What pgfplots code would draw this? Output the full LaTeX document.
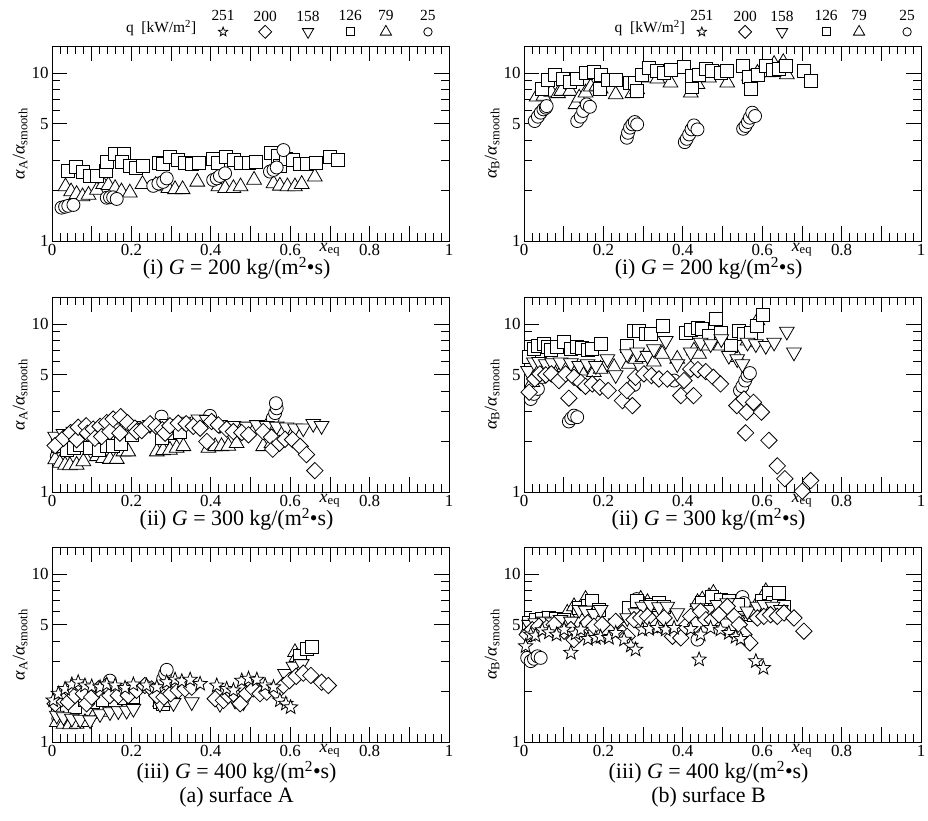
\documentclass[border=0pt]{standalone}
\usepackage{fontspec}
\setmainfont{Liberation Serif}
\usepackage{pgfplots}
\pgfplotsset{compat=1.18}

% open five-pointed star
\pgfdeclareplotmark{ostar}{%
  \pgfpathmoveto{\pgfpointpolar{90}{\pgfplotmarksize}}%
  \pgfpathlineto{\pgfpointpolar{126}{0.42*\pgfplotmarksize}}%
  \pgfpathlineto{\pgfpointpolar{162}{\pgfplotmarksize}}%
  \pgfpathlineto{\pgfpointpolar{198}{0.42*\pgfplotmarksize}}%
  \pgfpathlineto{\pgfpointpolar{234}{\pgfplotmarksize}}%
  \pgfpathlineto{\pgfpointpolar{270}{0.42*\pgfplotmarksize}}%
  \pgfpathlineto{\pgfpointpolar{306}{\pgfplotmarksize}}%
  \pgfpathlineto{\pgfpointpolar{342}{0.42*\pgfplotmarksize}}%
  \pgfpathlineto{\pgfpointpolar{18}{\pgfplotmarksize}}%
  \pgfpathlineto{\pgfpointpolar{54}{0.42*\pgfplotmarksize}}%
  \pgfpathclose
  \pgfusepathqfillstroke}

\pgfplotsset{
  every axis/.append style={
    width=397bp, height=195bp, scale only axis,
    xmin=0, xmax=1, ymode=log, ymin=1, ymax=14.5,
    xtick={0,0.1,0.2,0.3,0.4,0.5,0.6,0.7,0.8,0.9,1},
    xticklabels={0,{},0.2,{},0.4,{},0.6,{},0.8,{},1},
    minor x tick num=4,
    ytick={1,5,10}, yticklabels={1,5,10},
    minor ytick={2,3,4,6,7,8,9},
    tick align=inside, tick pos=both,
    major tick length=15bp, minor tick length=8bp,
    every tick/.style={black, line width=0.8bp},
    axis line style={line width=0.8bp},
    tick label style={font=\fontsize{17}{17}\selectfont},
    ylabel style={font=\fontsize{18}{18}\selectfont, at={(rel axis cs:-0.08,0.5)}, anchor=center},
    clip=false,
  },
  qa/.style={only marks, mark=ostar, mark size=7.5bp,
    mark options={draw=black, fill=white, line width=0.8bp}},
  qb/.style={only marks, mark=square*, mark size=5.8bp,
    mark options={draw=black, fill=white, line width=0.8bp, rotate=45}},
  qc/.style={only marks, mark=triangle*, mark size=8.5bp,
    mark options={draw=black, fill=white, line width=0.8bp, rotate=180}},
  qd/.style={only marks, mark=square*, mark size=6.5bp,
    mark options={draw=black, fill=white, line width=0.8bp}},
  qe/.style={only marks, mark=triangle*, mark size=8.5bp,
    mark options={draw=black, fill=white, line width=0.8bp}},
  qf/.style={only marks, mark=*, mark size=6.5bp,
    mark options={draw=black, fill=white, line width=0.8bp}},
}
\newcommand{\ylA}{\textit{α}\textsubscript{A}/\textit{α}\textsubscript{smooth}}
\newcommand{\ylB}{\textit{α}\textsubscript{B}/\textit{α}\textsubscript{smooth}}
\newcommand{\xeq}{\node[font=\fontsize{18}{18}\selectfont] at (rel axis cs:0.70,-0.045) {\textit{x}\textsubscript{eq}};}
\newcommand{\capfont}{\fontsize{22}{22}\selectfont}
\newcommand{\legfont}{\fontsize{15.5}{15.5}\selectfont}

\begin{document}
\begin{tikzpicture}
\useasboundingbox (0bp,0bp) rectangle (928bp,821bp);

% ---------- (a) surface A, G = 200 ----------
\begin{axis}[at={(52bp,580bp)}, anchor=south west, ylabel={\ylA}]
\addplot[qe] coordinates {
 (0.034,2.11)(0.048,1.97)(0.062,1.90)(0.077,1.84)(0.092,1.88)(0.113,2.01)(0.129,2.18)(0.142,2.15)
 (0.159,2.06)(0.175,1.97)(0.196,1.94)(0.228,2.18)(0.261,2.15)(0.278,2.11)(0.293,2.06)(0.310,2.03)
 (0.329,2.03)(0.366,2.25)(0.419,2.11)(0.436,2.06)(0.457,2.06)(0.475,2.11)(0.509,2.31)(0.558,2.20)
 (0.574,2.13)(0.593,2.11)(0.612,2.11)(0.629,2.18)(0.662,2.41)};
\addplot[qd] coordinates {
 (0.041,2.61)(0.060,2.77)(0.079,2.59)(0.096,2.44)(0.113,2.44)(0.135,2.61)(0.139,2.97)(0.159,3.30)
 (0.180,3.30)(0.175,2.97)(0.195,2.80)(0.212,2.71)(0.230,2.80)(0.270,2.90)(0.280,2.87)(0.297,3.15)
 (0.317,3.06)(0.335,2.93)(0.352,2.87)(0.371,2.93)(0.406,3.10)(0.419,2.90)(0.438,3.18)(0.457,3.06)
 (0.475,2.90)(0.495,2.90)(0.514,2.97)(0.552,3.36)(0.568,3.21)(0.573,2.80)(0.589,3.10)(0.608,3.03)
 (0.625,2.87)(0.641,2.87)(0.665,2.93)(0.700,3.18)(0.721,3.03)};
\addplot[qf] coordinates {
 (0.024,1.58)(0.033,1.60)(0.041,1.62)(0.054,1.64)(0.138,1.81)(0.146,1.82)(0.154,1.82)(0.163,1.78)
 (0.255,2.13)(0.268,2.20)(0.280,2.25)(0.289,2.36)(0.406,2.31)(0.415,2.36)(0.423,2.44)(0.436,2.53)
 (0.549,2.59)(0.558,2.65)(0.566,2.74)(0.583,3.48)};
% legend row
\node[font=\legfont] at (rel axis cs:0.275,1.09) {q~~[kW/m\textsuperscript{2}]};
\node[font=\legfont] at (rel axis cs:0.431,1.154) {251};
\node[font=\legfont] at (rel axis cs:0.537,1.154) {200};
\node[font=\legfont] at (rel axis cs:0.645,1.154) {158};
\node[font=\legfont] at (rel axis cs:0.751,1.154) {126};
\node[font=\legfont] at (rel axis cs:0.841,1.154) {79};
\node[font=\legfont] at (rel axis cs:0.947,1.154) {25};
\addplot[qa, mark size=4.8bp] coordinates {(0.431,17.6)};
\addplot[qb, mark size=4.6bp] coordinates {(0.537,17.6)};
\addplot[qc, mark size=6.5bp] coordinates {(0.645,17.6)};
\addplot[qd, mark size=4bp] coordinates {(0.751,17.6)};
\addplot[qe, mark size=6.5bp] coordinates {(0.841,17.6)};
\addplot[qf, mark size=4.2bp] coordinates {(0.947,17.6)};
\xeq
\node[font=\capfont] at (rel axis cs:0.465,-0.14) {(i) \textit{G} = 200 kg/(m\textsuperscript{2}\textbullet s)};
\end{axis}

% ---------- (b) surface B, G = 200 ----------
\begin{axis}[at={(524bp,580bp)}, anchor=south west, ylabel={\ylB}]
\addplot[qe] coordinates {
 (0.032,7.23)(0.049,7.30)(0.069,7.71)(0.086,7.57)(0.094,7.81)(0.116,7.81)(0.130,6.51)(0.139,7.13)
 (0.155,7.64)(0.168,8.29)(0.183,8.37)(0.193,8.07)(0.231,7.46)(0.273,7.57)(0.285,8.0)(0.315,9.38)
 (0.336,9.25)(0.369,8.76)(0.420,7.64)(0.437,8.57)(0.466,9.38)(0.495,10.0)(0.512,8.76)(0.567,9.6)
 (0.588,10.0)(0.615,10.1)(0.630,11.3)(0.642,10.5)(0.653,11.6)(0.662,9.82)};
\addplot[qd] coordinates {
 (0.044,8.07)(0.059,9.08)(0.077,9.82)(0.097,9.25)(0.116,8.84)(0.134,9.25)(0.155,10.0)(0.176,10.1)
 (0.193,9.82)(0.191,8.07)(0.212,9.08)(0.231,9.17)(0.266,8.76)(0.279,8.76)(0.285,7.81)(0.298,9.82)
 (0.315,10.8)(0.334,10.3)(0.353,10.0)(0.371,10.5)(0.403,10.9)(0.422,8.29)(0.424,9.6)(0.441,9.82)
 (0.458,10.6)(0.474,10.3)(0.495,10.0)(0.512,10.3)(0.552,11.1)(0.567,9.51)(0.571,8.0)(0.588,9.82)
 (0.609,11.0)(0.626,10.5)(0.642,10.6)(0.659,11.1)(0.705,10.3)(0.722,8.96)};
\addplot[qf] coordinates {
 (0.027,5.18)(0.035,5.50)(0.042,5.81)(0.049,6.08)(0.055,6.22)(0.057,6.36)(0.134,5.18)(0.143,5.50)
 (0.149,5.95)(0.158,6.51)(0.166,6.30)(0.259,4.12)(0.262,4.41)(0.267,4.73)(0.273,4.95)(0.279,5.11)
 (0.285,4.95)(0.405,3.88)(0.410,4.06)(0.416,4.31)(0.422,4.62)(0.428,4.88)(0.437,4.62)(0.552,4.66)
 (0.558,4.84)(0.564,5.11)(0.569,5.42)(0.575,5.81)(0.582,5.55)};
\node[font=\legfont] at (rel axis cs:0.317,1.09) {q~~[kW/m\textsuperscript{2}]};
\node[font=\legfont] at (rel axis cs:0.448,1.154) {251};
\node[font=\legfont] at (rel axis cs:0.557,1.154) {200};
\node[font=\legfont] at (rel axis cs:0.650,1.154) {158};
\node[font=\legfont] at (rel axis cs:0.761,1.154) {126};
\node[font=\legfont] at (rel axis cs:0.844,1.154) {79};
\node[font=\legfont] at (rel axis cs:0.965,1.154) {25};
\addplot[qa, mark size=4.8bp] coordinates {(0.448,17.6)};
\addplot[qb, mark size=4.6bp] coordinates {(0.557,17.6)};
\addplot[qc, mark size=6.5bp] coordinates {(0.650,17.6)};
\addplot[qd, mark size=4bp] coordinates {(0.761,17.6)};
\addplot[qe, mark size=6.5bp] coordinates {(0.844,17.6)};
\addplot[qf, mark size=4.2bp] coordinates {(0.965,17.6)};
\xeq
\node[font=\capfont] at (rel axis cs:0.465,-0.14) {(i) \textit{G} = 200 kg/(m\textsuperscript{2}\textbullet s)};
\end{axis}

% ---------- (a) surface A, G = 300 ----------
\begin{axis}[at={(52bp,329bp)}, anchor=south west, ylabel={\ylA}]
\addplot[qf] coordinates {
 (0.012,1.63)(0.020,1.57)(0.029,1.54)(0.108,1.70)(0.276,2.81)(0.398,2.84)(0.551,2.57)(0.556,2.75)
 (0.562,2.95)(0.566,3.15)(0.564,3.38)};
\addplot[qe] coordinates {
 (0.008,1.56)(0.020,1.49)(0.033,1.45)(0.045,1.44)(0.062,1.45)(0.079,1.52)(0.113,1.63)(0.129,1.59)
 (0.146,1.57)(0.163,1.57)(0.180,1.74)(0.192,1.74)(0.264,1.74)(0.280,1.77)(0.297,1.78)(0.314,1.83)
 (0.331,1.87)(0.394,1.83)(0.411,1.87)(0.427,1.87)(0.444,1.88)(0.465,1.95)(0.532,1.87)(0.553,1.95)};
\addplot[qd] coordinates {
 (0.016,1.87)(0.037,1.78)(0.054,1.83)(0.071,1.91)(0.096,1.83)(0.117,1.78)(0.138,1.87)(0.154,1.88)
 (0.173,1.94)(0.201,2.19)(0.276,2.09)(0.297,2.24)(0.322,2.29)};
\addplot[qc] coordinates {
 (0.008,2.14)(0.029,2.22)(0.054,2.29)(0.079,2.35)(0.121,2.40)(0.163,2.40)(0.205,2.48)(0.247,2.51)
 (0.289,2.55)(0.331,2.63)(0.369,2.71)(0.390,2.69)(0.423,2.51)(0.457,2.48)(0.490,2.46)(0.516,2.51)
 (0.541,2.48)(0.566,2.46)(0.591,2.43)(0.612,2.40)(0.633,2.40)(0.658,2.55)(0.679,2.48)};
\addplot[qb] coordinates {
 (0.008,1.89)(0.029,2.09)(0.047,2.26)(0.062,2.05)(0.066,2.43)(0.086,2.48)(0.089,2.24)(0.104,2.37)
 (0.108,2.09)(0.121,2.46)(0.125,2.14)(0.138,2.59)(0.146,2.29)(0.154,2.72)(0.173,2.81)(0.171,2.24)
 (0.190,2.59)(0.209,2.40)(0.213,2.29)(0.226,2.32)(0.247,2.55)(0.262,2.46)(0.278,2.35)(0.285,2.24)
 (0.297,2.48)(0.318,2.57)(0.338,2.55)(0.356,2.46)(0.373,2.40)(0.390,2.00)(0.402,2.63)(0.419,2.51)
 (0.440,2.37)(0.457,2.29)(0.478,2.26)(0.495,2.19)(0.532,2.29)(0.553,2.12)(0.556,1.80)(0.573,1.95)
 (0.587,2.06)(0.606,2.05)(0.625,1.87)(0.641,1.67)(0.662,1.34)};
\xeq
\node[font=\capfont] at (rel axis cs:0.465,-0.14) {(ii) \textit{G} = 300 kg/(m\textsuperscript{2}\textbullet s)};
\end{axis}

% ---------- (b) surface B, G = 300 ----------
\begin{axis}[at={(524bp,329bp)}, anchor=south west, ylabel={\ylB}]
\addplot[qf] coordinates {
 (0.017,3.58)(0.025,3.84)(0.035,4.11)(0.113,2.63)(0.119,2.75)(0.126,2.85)(0.134,2.79)(0.277,4.34)
 (0.378,4.61)(0.544,4.02)(0.550,4.26)(0.557,4.61)(0.563,4.93)(0.569,5.11)};
\addplot[qe] coordinates {
 (0.021,4.50)(0.035,4.71)(0.055,4.98)(0.076,5.16)(0.101,5.53)(0.126,5.05)(0.143,5.28)(0.176,5.16)
 (0.193,5.40)(0.227,5.53)(0.264,5.78)(0.281,6.20)(0.298,6.34)(0.327,5.97)(0.348,6.63)(0.386,6.20)
 (0.428,6.94)(0.441,6.63)(0.453,7.43)(0.470,8.15)(0.495,7.43)(0.537,6.34)(0.563,7.96)(0.575,7.78)
 (0.588,10.5)};
\addplot[qd] coordinates {
 (0.013,6.34)(0.025,7.10)(0.035,7.43)(0.049,7.61)(0.059,7.27)(0.069,7.04)(0.084,7.27)(0.101,7.85)
 (0.118,7.10)(0.134,7.33)(0.147,7.17)(0.160,7.04)(0.172,7.10)(0.193,7.61)(0.260,7.43)(0.277,9.13)
 (0.290,9.13)(0.306,8.72)(0.319,8.72)(0.351,9.77)(0.407,8.92)(0.421,9.25)(0.437,9.55)(0.449,9.34)
 (0.466,8.53)(0.483,10.7)(0.495,8.92)(0.521,7.43)(0.542,9.13)(0.554,8.72)(0.571,8.92)(0.586,9.77)
 (0.601,11.3)};
\addplot[qc] coordinates {
 (0.010,5.28)(0.025,5.92)(0.038,5.97)(0.055,5.78)(0.071,5.86)(0.092,5.92)(0.118,5.86)(0.139,5.65)
 (0.160,5.78)(0.181,5.65)(0.210,6.20)(0.231,4.98)(0.260,6.63)(0.285,6.79)(0.311,6.49)(0.327,7.10)
 (0.357,7.96)(0.386,5.78)(0.420,6.79)(0.445,7.78)(0.470,7.61)(0.497,8.15)(0.516,6.49)(0.537,6.20)
 (0.550,5.78)(0.563,7.78)(0.584,7.61)(0.609,7.43)(0.630,7.78)(0.662,9.04)(0.680,6.79)};
\addplot[qb] coordinates {
 (0.013,3.93)(0.027,4.71)(0.040,5.05)(0.055,4.98)(0.069,5.05)(0.088,4.61)(0.105,5.05)(0.113,3.62)
 (0.126,4.82)(0.143,4.50)(0.155,4.26)(0.172,4.40)(0.191,4.21)(0.212,4.02)(0.248,3.50)(0.259,4.02)
 (0.273,3.27)(0.281,4.82)(0.302,5.05)(0.321,4.93)(0.340,4.71)(0.361,4.71)(0.395,3.75)(0.403,4.61)
 (0.420,5.40)(0.427,3.75)(0.438,5.35)(0.458,5.21)(0.477,4.82)(0.495,4.40)(0.536,3.27)(0.554,3.58)
 (0.561,2.99)(0.558,2.25)(0.578,3.42)(0.598,2.99)(0.617,2.03)(0.638,1.43)(0.657,1.20)(0.701,1.01)
 (0.722,1.17)};
\xeq
\node[font=\capfont] at (rel axis cs:0.465,-0.14) {(ii) \textit{G} = 300 kg/(m\textsuperscript{2}\textbullet s)};
\end{axis}

% ---------- (a) surface A, G = 400 ----------
\begin{axis}[at={(52bp,79bp)}, anchor=south west, ylabel={\ylA}]
\addplot[qf] coordinates {
 (0.016,1.38)(0.146,2.32)(0.280,2.38)(0.285,2.55)(0.289,2.69)};
\addplot[qe] coordinates {
 (0.012,1.31)(0.029,1.28)(0.045,1.27)(0.062,1.28)(0.083,1.31)(0.108,1.47)(0.125,1.51)(0.146,1.58)
 (0.167,1.61)(0.272,1.73)(0.612,3.42)(0.616,3.20)};
\addplot[qd] coordinates {
 (0.016,1.61)(0.037,1.61)(0.058,1.61)(0.083,1.77)(0.104,1.73)(0.129,1.77)(0.159,1.78)(0.180,1.83)
 (0.205,1.85)(0.272,1.73)(0.280,1.69)(0.297,1.77)(0.625,3.27)(0.641,3.58)(0.654,3.70)};
\addplot[qc] coordinates {
 (0.012,1.44)(0.029,1.41)(0.050,1.38)(0.071,1.36)(0.096,1.35)(0.121,1.47)(0.146,1.51)(0.167,1.53)
 (0.188,1.54)(0.205,1.58)(0.272,1.69)(0.306,1.71)(0.352,1.73)(0.423,1.69)(0.461,1.77)(0.482,1.73)
 (0.587,2.55)(0.608,2.82)(0.629,2.92)};
\addplot[qb] coordinates {
 (0.008,1.69)(0.024,1.81)(0.041,1.73)(0.058,1.89)(0.079,1.94)(0.087,1.69)(0.100,1.85)(0.117,2.07)
 (0.136,2.14)(0.146,1.89)(0.167,1.89)(0.192,1.89)(0.213,2.03)(0.234,2.17)(0.251,2.07)(0.264,1.89)
 (0.282,1.85)(0.299,1.94)(0.318,2.03)(0.335,2.07)(0.352,2.12)(0.411,1.81)(0.432,1.77)(0.444,1.89)
 (0.457,1.94)(0.474,1.69)(0.490,1.94)(0.507,2.07)(0.524,1.94)(0.541,1.98)(0.566,1.98)(0.583,2.17)
 (0.598,2.32)(0.615,2.46)(0.633,2.57)(0.652,2.49)(0.679,2.27)(0.696,2.17)};
\addplot[qa] coordinates {
 (0.003,1.77)(0.016,1.94)(0.033,2.07)(0.050,2.20)(0.066,2.27)(0.083,2.17)(0.100,2.14)(0.121,2.12)
 (0.138,2.20)(0.159,2.17)(0.184,2.10)(0.205,2.20)(0.238,2.17)(0.264,2.12)(0.289,2.27)(0.310,2.35)
 (0.327,2.30)(0.348,2.35)(0.373,2.22)(0.415,2.17)(0.440,2.07)(0.457,2.03)(0.478,2.32)(0.495,2.38)
 (0.516,2.35)(0.537,2.17)(0.558,2.12)(0.574,1.77)(0.589,1.69)(0.601,1.61)};
\xeq
\node[font=\capfont] at (rel axis cs:0.465,-0.155) {(iii) \textit{G} = 400 kg/(m\textsuperscript{2}\textbullet s)};
\node[font=\capfont] at (rel axis cs:0.465,-0.285) {(a) surface A};
\end{axis}

% ---------- (b) surface B, G = 400 ----------
\begin{axis}[at={(524bp,79bp)}, anchor=south west, ylabel={\ylB}]
\addplot[qf] coordinates {
 (0.008,3.17)(0.017,3.03)(0.025,3.13)(0.034,3.24)(0.042,3.17)(0.284,7.10)(0.437,4.07)(0.550,7.30)
 (0.554,6.72)};
\addplot[qe] coordinates {
 (0.008,4.67)(0.025,5.00)(0.046,5.35)(0.065,5.23)(0.084,5.23)(0.109,5.87)(0.126,6.42)(0.139,6.14)
 (0.155,7.10)(0.172,6.57)(0.269,5.48)(0.281,6.72)(0.294,7.10)(0.311,6.79)(0.327,6.42)(0.437,6.79)
 (0.449,7.04)(0.466,7.36)(0.477,7.71)(0.495,6.88)(0.521,5.73)(0.537,6.14)(0.571,5.60)(0.588,6.72)
 (0.609,7.89)(0.630,6.72)};
\addplot[qd] coordinates {
 (0.013,5.12)(0.029,5.35)(0.046,5.40)(0.063,5.48)(0.080,5.40)(0.101,5.35)(0.139,6.28)(0.160,6.49)
 (0.172,6.88)(0.189,6.14)(0.264,6.28)(0.285,6.88)(0.306,6.36)(0.323,6.57)(0.340,6.72)(0.353,6.42)
 (0.449,6.72)(0.474,7.36)(0.495,7.04)(0.516,6.88)(0.539,6.57)(0.579,5.73)(0.600,6.88)(0.617,7.78)
 (0.626,6.72)(0.642,7.71)(0.655,6.42)};
\addplot[qc] coordinates {
 (0.013,5.00)(0.029,5.12)(0.050,5.23)(0.071,5.17)(0.092,5.35)(0.118,5.23)(0.139,6.14)(0.155,6.08)
 (0.176,5.81)(0.193,6.14)(0.231,5.12)(0.260,5.48)(0.281,5.87)(0.298,6.42)(0.319,6.57)(0.340,6.36)
 (0.361,6.42)(0.386,5.87)(0.437,6.28)(0.466,6.14)(0.487,6.57)(0.512,6.72)(0.537,5.35)(0.563,6.00)
 (0.588,6.42)(0.605,6.57)(0.626,6.42)(0.647,6.14)};
\addplot[qb] coordinates {
 (0.008,4.36)(0.021,4.67)(0.038,4.89)(0.057,4.78)(0.076,5.00)(0.101,4.57)(0.118,4.67)(0.126,4.07)
 (0.139,4.36)(0.160,5.12)(0.176,4.89)(0.197,5.00)(0.231,5.23)(0.248,4.46)(0.260,4.26)(0.277,5.35)
 (0.294,5.48)(0.311,5.60)(0.323,5.23)(0.336,5.00)(0.353,5.48)(0.374,4.26)(0.395,4.17)(0.407,4.89)
 (0.420,5.60)(0.432,5.00)(0.445,6.00)(0.458,5.35)(0.474,5.35)(0.491,5.73)(0.512,6.42)(0.529,5.60)
 (0.542,5.00)(0.554,4.36)(0.569,3.89)(0.588,5.48)(0.604,5.60)(0.621,5.73)(0.638,5.60)(0.655,5.87)
 (0.680,5.48)(0.705,4.57)};
\addplot[qa] coordinates {
 (0.004,3.72)(0.017,4.36)(0.029,4.30)(0.046,4.63)(0.063,4.50)(0.082,4.36)(0.101,4.67)(0.118,3.40)
 (0.130,4.42)(0.143,4.67)(0.161,4.11)(0.181,4.17)(0.193,4.23)(0.214,4.17)(0.231,4.46)(0.252,4.07)
 (0.269,3.75)(0.281,3.55)(0.298,4.67)(0.315,4.71)(0.336,4.78)(0.357,4.67)(0.378,4.78)(0.420,4.71)
 (0.441,3.10)(0.445,4.36)(0.470,4.78)(0.495,4.67)(0.516,4.46)(0.533,4.23)(0.546,4.11)(0.584,3.03)
 (0.603,2.76)};
\xeq
\node[font=\capfont] at (rel axis cs:0.465,-0.155) {(iii) \textit{G} = 400 kg/(m\textsuperscript{2}\textbullet s)};
\node[font=\capfont] at (rel axis cs:0.465,-0.285) {(b) surface B};
\end{axis}
\end{tikzpicture}
\end{document}
